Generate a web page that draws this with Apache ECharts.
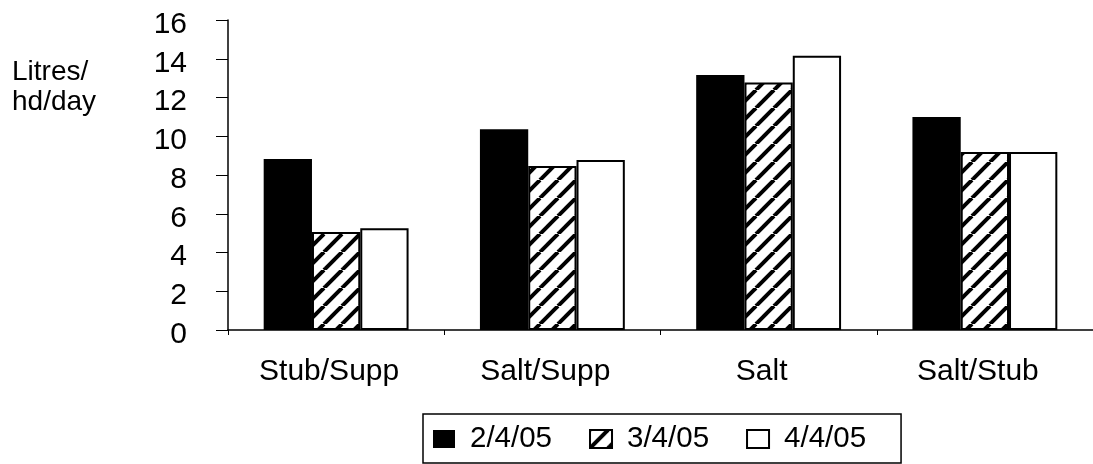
<!DOCTYPE html>
<html>
<head>
<meta charset="utf-8">
<script src="https://cdn.jsdelivr.net/npm/echarts@6/dist/echarts.min.js"></script>
<style>
html,body{margin:0;padding:0;background:#fff;}
#c{width:1093px;height:464px;}
</style>
</head>
<body>
<div id="c"></div>
<script>
const categories = ['Stub/Supp', 'Salt/Supp', 'Salt', 'Salt/Stub'];
const seriesNames = ['2/4/05', '3/4/05', '4/4/05'];
const values0204 = [8.83, 10.36, 13.16, 11.0];
const values0304 = [5.06, 8.46, 12.78, 9.19];
const values0404 = [5.25, 8.77, 14.16, 9.19];
const yMin = 0, yMax = 16, yStep = 2;
const yAxisTitle = 'Litres/\nhd/day';

function hatch() {
  const s = 18;
  const cv = document.createElement('canvas');
  cv.width = s; cv.height = s;
  const ctx = cv.getContext('2d');
  ctx.fillStyle = '#fff';
  ctx.fillRect(0, 0, s, s);
  ctx.strokeStyle = '#000';
  ctx.lineWidth = 4;
  for (let k = -1; k <= 1; k++) {
    ctx.beginPath();
    ctx.moveTo(k * s, s);
    ctx.lineTo(k * s + s, 0);
    ctx.stroke();
  }
  return { image: cv, repeat: 'repeat' };
}

const FONT = 'Liberation Sans, Arial, sans-serif';
const chart = echarts.init(document.getElementById('c'), null, { renderer: 'canvas' });
chart.setOption({
  animation: false,
  backgroundColor: '#fff',
  textStyle: { fontFamily: FONT },
  grid: { left: 228, right: -7, top: 20, bottom: 134, containLabel: false },
  graphic: [{
    type: 'text', left: 12, top: 57,
    style: { text: yAxisTitle, font: '28px ' + FONT, fill: '#000', lineHeight: 30 }
  }],
  legend: {
    left: 423, top: 414,
    data: seriesNames.map(n => ({ name: n, icon: 'rect' })),
    orient: 'horizontal',
    itemWidth: 22, itemHeight: 18, itemGap: 37,
    padding: [10, 35, 9, 10],
    borderColor: '#000', borderWidth: 1.5, borderRadius: 0,
    textStyle: { fontSize: 29.5, color: '#000', fontFamily: FONT, padding: [0, 0, 0, 10] },
    selectedMode: false
  },
  xAxis: {
    type: 'category',
    data: categories,
    axisLine: { lineStyle: { color: '#000', width: 1.5 } },
    axisTick: { show: true, length: 5, lineStyle: { color: '#000', width: 1 } },
    axisLabel: { fontSize: 30, color: '#000', fontFamily: FONT, margin: 27, padding: [0, 14, 0, 0] },
    splitLine: { show: false }
  },
  yAxis: {
    type: 'value',
    min: yMin, max: yMax, interval: yStep,
    axisLine: { show: true, lineStyle: { color: '#000', width: 1.5 } },
    axisTick: { show: true, length: 12, lineStyle: { color: '#000', width: 1 } },
    axisLabel: {
      color: '#000', fontFamily: FONT, fontSize: 30, margin: 41,
      formatter: '{v|{value}}',
      rich: { v: { fontSize: 30, color: '#000', fontFamily: FONT, padding: [9, 0, 0, 0] } }
    },
    splitLine: { show: false }
  },
  series: [
    { name: seriesNames[0], type: 'bar', data: values0204, barGap: '0%', barCategoryGap: '33%',
      itemStyle: { color: '#000', borderColor: '#000', borderWidth: 0 } },
    { name: seriesNames[1], type: 'bar', data: values0304, barGap: '0%', barCategoryGap: '33%',
      itemStyle: { color: hatch(), borderColor: '#000', borderWidth: 2 } },
    { name: seriesNames[2], type: 'bar', data: values0404, barGap: '0%', barCategoryGap: '33%',
      itemStyle: { color: '#fff', borderColor: '#000', borderWidth: 2 } }
  ]
});
</script>
</body>
</html>
